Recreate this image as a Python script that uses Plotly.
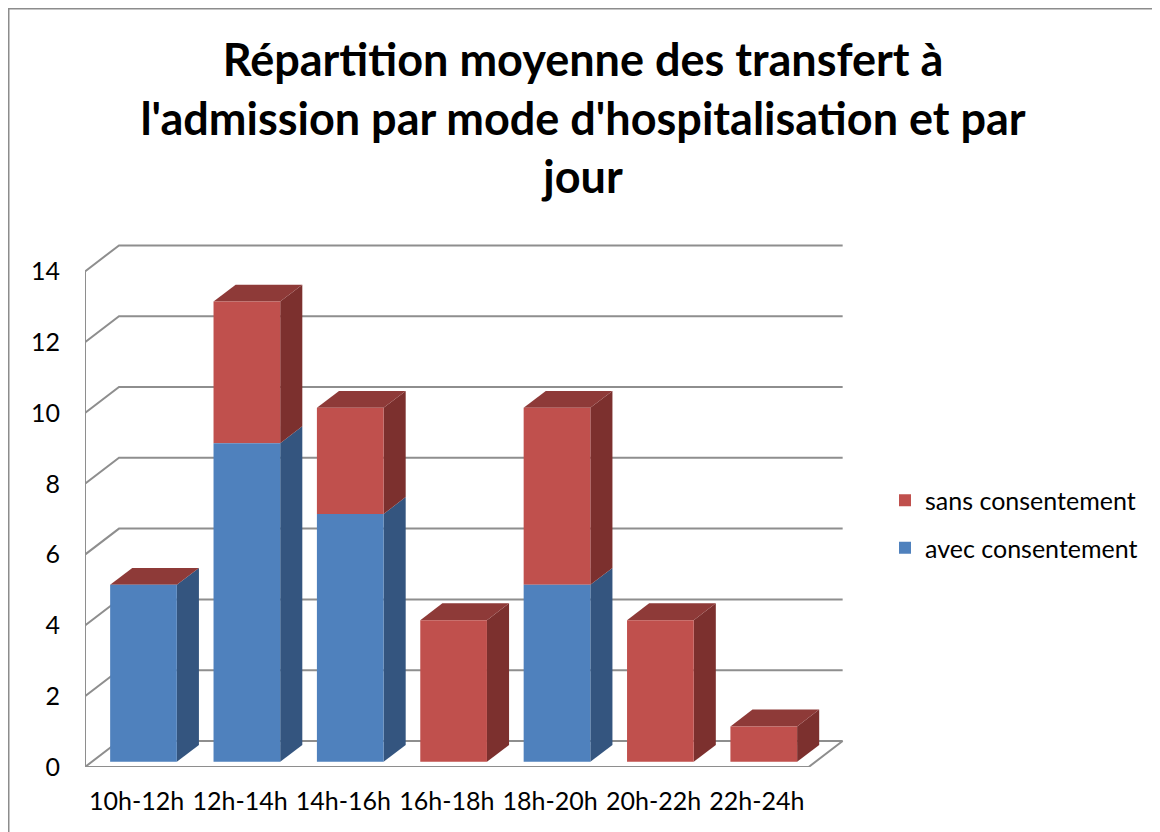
import plotly.graph_objects as go

# ---------------- data ----------------
categories = ["10h-12h", "12h-14h", "14h-16h", "16h-18h", "18h-20h", "20h-22h", "22h-24h"]
avec_consentement = [5, 9, 7, 0, 5, 0, 0]
sans_consentement = [0, 4, 3, 4, 5, 4, 1]
y_ticks = [0, 2, 4, 6, 8, 10, 12, 14]
title_text = "Répartition moyenne des transfert à<br>l'admission par mode d'hospitalisation et par<br>jour"

# ---------------- style / projection ----------------
W, H = 1152, 824          # page adds an 8px body margin
M_L, M_R, M_T, M_B = 77, 310, 228, 65
X_RANGE = [-0.5, 6.9]
Y_RANGE = [0, 15]
PX_PER_X = (W - M_L - M_R) / (X_RANGE[1] - X_RANGE[0])
PX_PER_Y = (H - M_T - M_B) / (Y_RANGE[1] - Y_RANGE[0])
DEPTH_X = 34 / PX_PER_X      # full floor depth, x units
DEPTH_Y = 26 / PX_PER_Y      # full floor depth, y units
BAR_D0, BAR_D1 = 0.2, 0.85   # bar front / back depth fractions
BAR_W = 0.645

BLUE, BLUE_SIDE = "#4F81BD", "#34557F"
RED, RED_SIDE, RED_TOP = "#C0504D", "#7C302E", "#8E3A38"
GRID = "#8E8E8E"
FONT = "Lato"
FS = 25

n = len(categories)
x_idx = list(range(n))
ox, oy = BAR_D0 * DEPTH_X, BAR_D0 * DEPTH_Y
ddx, ddy = (BAR_D1 - BAR_D0) * DEPTH_X, (BAR_D1 - BAR_D0) * DEPTH_Y

fig = go.Figure()

# front faces of bars (projected to bar depth); red listed first for legend order
bx = [i + ox for i in x_idx]
fig.add_trace(go.Bar(
    x=bx, y=[v if v else None for v in sans_consentement],
    base=[a + oy for a in avec_consentement], width=BAR_W, name="sans consentement",
    marker=dict(color=RED, line=dict(width=0)), legendgroup="s",
))
fig.add_trace(go.Bar(
    x=bx, y=[v if v else None for v in avec_consentement],
    base=[oy] * n, width=BAR_W, name="avec consentement",
    marker=dict(color=BLUE, line=dict(width=0)), legendgroup="a",
))

shapes = []
# walls / gridlines
x_front_l, x_front_r = X_RANGE[0], n - 0.5
for v in y_ticks:
    path = (f"M {x_front_l},{v} L {x_front_l + DEPTH_X},{v + DEPTH_Y} "
            f"L {x_front_r + DEPTH_X},{v + DEPTH_Y}")
    shapes.append(dict(type="path", path=path, xref="x", yref="y", layer="below",
                       line=dict(color=GRID, width=2)))
# floor front edge and right edge
shapes.append(dict(type="path", xref="x", yref="y", layer="below",
                   path=f"M {x_front_l},0 L {x_front_r},0 L {x_front_r + DEPTH_X},{DEPTH_Y}",
                   line=dict(color=GRID, width=2)))
# front vertical axis
shapes.append(dict(type="line", xref="x", yref="y", layer="below",
                   x0=x_front_l, x1=x_front_l, y0=0, y1=max(y_ticks),
                   line=dict(color=GRID, width=2)))


def poly(pts, color):
    p = "M " + " L ".join(f"{x},{y}" for x, y in pts) + " Z"
    return dict(type="path", path=p, xref="x", yref="y", layer="below",
                fillcolor=color, line=dict(width=0))


for i in x_idx:
    xl = i + ox - BAR_W / 2
    xr = i + ox + BAR_W / 2
    b0 = oy
    b1 = oy + avec_consentement[i]
    b2 = b1 + sans_consentement[i]
    if avec_consentement[i]:
        shapes.append(poly([(xr, b0), (xr + ddx, b0 + ddy), (xr + ddx, b1 + ddy), (xr, b1)], BLUE_SIDE))
    if sans_consentement[i]:
        shapes.append(poly([(xr, b1), (xr + ddx, b1 + ddy), (xr + ddx, b2 + ddy), (xr, b2)], RED_SIDE))
    shapes.append(poly([(xl, b2), (xr, b2), (xr + ddx, b2 + ddy), (xl + ddx, b2 + ddy)], RED_TOP))


# chart border (figure pixel coords -> paper)
def px_to_paper_x(px):
    return (px - M_L) / (W - M_L - M_R)


def px_to_paper_y(py):
    return (H - M_B - py) / (H - M_T - M_B)


shapes.append(dict(type="rect", xref="paper", yref="paper",
                   x0=px_to_paper_x(0.5), x1=px_to_paper_x(1151),
                   y0=px_to_paper_y(840), y1=px_to_paper_y(0.5),
                   line=dict(color="#8C8C8C", width=2), fillcolor="rgba(0,0,0,0)"))

fig.update_layout(
    width=W, height=H,
    margin=dict(l=M_L, r=M_R, t=M_T, b=M_B),
    paper_bgcolor="white", plot_bgcolor="white",
    barmode="overlay",
    shapes=shapes,
    font=dict(family=FONT, size=FS, color="black"),
    title=dict(text=title_text, x=575 / W, xref="container", xanchor="center",
               y=1 - 68 / H, yref="container", yanchor="top",
               font=dict(family=FONT, size=45, color="black", weight="bold")),
    xaxis=dict(range=X_RANGE, tickvals=x_idx, ticktext=categories, showgrid=False,
               zeroline=False, showline=False, ticks="", ticklabelstandoff=17,
               tickfont=dict(size=FS)),
    yaxis=dict(range=Y_RANGE, tickvals=y_ticks, showgrid=False, zeroline=False,
               showline=False, ticks="", ticklabelstandoff=24, tickfont=dict(size=FS)),
    legend=dict(x=px_to_paper_x(877), y=px_to_paper_y(516), xanchor="left", yanchor="middle",
                traceorder="grouped", tracegroupgap=12, itemsizing="constant",
                font=dict(size=FS)),
    showlegend=True,
)

fig.write_html("out.html")
